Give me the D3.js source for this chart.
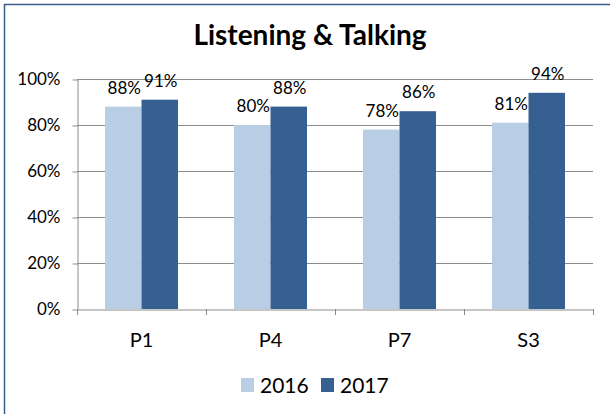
<!DOCTYPE html>
<html lang="en">
<head>
<meta charset="UTF-8">
<title>Listening & Talking</title>
<style>
  body { margin: 0; background: #fff; }
  text { font-family: Lato, "Open Sans", sans-serif; fill: #000; }
</style>
</head>
<body>
<svg width="610" height="414"></svg>
<script src="https://d3js.org/d3.v7.min.js"></script>
<script>
// data
var categories = ["P1", "P4", "P7", "S3"];
var seriesNames = ["2016", "2017"];
var values2016 = [0.88, 0.80, 0.78, 0.81];
var values2017 = [0.91, 0.88, 0.86, 0.94];
var yTicks = [0, 0.2, 0.4, 0.6, 0.8, 1.0];
var colors = ["#B9CDE5", "#376092"];

var svg = d3.select("svg");

// chart frame (top and left edge visible)
svg.append("path")
  .attr("d", "M4.5,414 V4.5 H610")
  .attr("fill", "none")
  .attr("stroke", "#385D8A")
  .attr("stroke-width", 1.5);

var plotLeft = 77, plotRight = 593, plotTop = 79, plotBottom = 309;

var x = d3.scaleBand().domain(categories).range([plotLeft, plotRight]);
var y = d3.scaleLinear().domain([0, 1]).range([plotBottom, plotTop]);
var bw = x.bandwidth() * 0.283;

// title
svg.append("text")
  .attr("x", 310).attr("y", 45)
  .attr("text-anchor", "middle")
  .style("font-size", "28px")
  .style("font-weight", "bold")
  .text("Listening & Talking");

// gridlines
svg.append("g").selectAll("line")
  .data(yTicks.slice(1))
  .enter().append("line")
  .attr("x1", plotLeft).attr("x2", plotRight)
  .attr("y1", d => Math.round(y(d)) + 0.5).attr("y2", d => Math.round(y(d)) + 0.5)
  .attr("stroke", "#8C8C8C");

// y axis
var yAxis = svg.append("g")
  .attr("transform", "translate(" + (plotLeft + 0.5) + ",0.5)")
  .call(d3.axisLeft(y).tickValues(yTicks).tickFormat(d3.format(".0%")).tickSizeInner(5).tickSizeOuter(0).tickPadding(12));
yAxis.select(".domain").attr("stroke", "#8C8C8C");
yAxis.selectAll(".tick line").attr("stroke", "#8C8C8C");
yAxis.selectAll("text").style("font-size", "17px").attr("fill", "#000");

// bars
var barData = [];
categories.forEach(function(c, i) {
  barData.push({cat: c, s: 0, v: values2016[i]});
  barData.push({cat: c, s: 1, v: values2017[i]});
});

var barX = d => x(d.cat) + x.bandwidth() / 2 - bw + d.s * bw;

svg.append("g").selectAll("rect")
  .data(barData)
  .enter().append("rect")
  .attr("x", barX)
  .attr("y", d => y(d.v))
  .attr("width", bw)
  .attr("height", d => y(0) - y(d.v))
  .attr("fill", d => colors[d.s]);

// data labels
svg.append("g").selectAll("text")
  .data(barData)
  .enter().append("text")
  .attr("x", d => barX(d) + bw / 2 + 1)
  .attr("y", d => y(d.v) - 13)
  .attr("text-anchor", "middle")
  .style("font-size", "17px")
  .text(d => d3.format(".0%")(d.v));

// x axis
var xAxis = svg.append("g")
  .attr("transform", "translate(0," + (plotBottom + 0.5) + ")")
  .call(d3.axisBottom(x).tickSize(0).tickPadding(23));
xAxis.select(".domain").attr("stroke", "#8C8C8C");
xAxis.selectAll("text").style("font-size", "20px").attr("fill", "#000");

// x tick marks at band edges
svg.append("g").selectAll("line")
  .data(categories.concat(["end"]))
  .enter().append("line")
  .attr("x1", (d, i) => Math.round(plotLeft + i * x.step()) + 0.5)
  .attr("x2", (d, i) => Math.round(plotLeft + i * x.step()) + 0.5)
  .attr("y1", plotBottom).attr("y2", plotBottom + 6)
  .attr("stroke", "#8C8C8C");

// legend
var legend = svg.append("g").selectAll("g")
  .data(seriesNames)
  .enter().append("g")
  .attr("transform", (d, i) => "translate(" + (241 + i * 80) + ",378)");
legend.append("rect")
  .attr("width", 13).attr("height", 14)
  .attr("fill", (d, i) => colors[i]);
legend.append("text")
  .attr("x", 19).attr("y", 15)
  .style("font-size", "21px")
  .text(d => d);
</script>
</body>
</html>
